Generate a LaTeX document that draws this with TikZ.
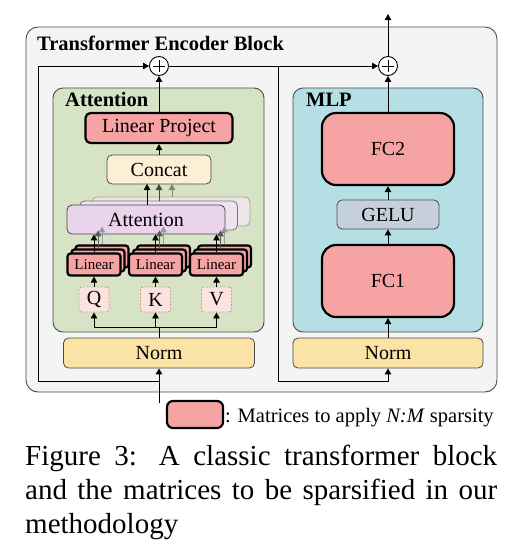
\documentclass[tikz,border=0pt]{standalone}
\usepackage{fontspec}
\setmainfont{Liberation Serif}
\usetikzlibrary{arrows.meta}
\definecolor{outerfill}{HTML}{F4F4F4}
\definecolor{attnfill}{HTML}{D6E3C4}
\definecolor{mlpfill}{HTML}{B4DFE4}
\definecolor{pinkfill}{HTML}{F6A3A3}
\definecolor{concatfill}{HTML}{FCEFD5}
\definecolor{lavA}{HTML}{E9D4EB}
\definecolor{lavB}{HTML}{EEE2EF}
\definecolor{lavC}{HTML}{ECE7E6}
\definecolor{qkvfill}{HTML}{FBE4DF}
\definecolor{qkvdraw}{HTML}{DC9A8A}
\definecolor{normfill}{HTML}{FBE3A6}
\definecolor{gelufill}{HTML}{C6D0DC}
\definecolor{edge}{HTML}{4A4A4A}
\definecolor{arrB}{HTML}{3F4A3C}
\definecolor{arrC}{HTML}{7C8A6E}
\begin{document}
\begin{tikzpicture}[x=1pt,y=-1pt,
  arr/.style={draw=black, line width=0.9pt, -{Triangle[length=6pt,width=6.5pt]}},
  ln/.style={draw=black, line width=0.9pt},
  txt/.style={font=\fontsize{20}{24}\selectfont},
  box/.style={draw=edge, line width=0.8pt, rounded corners=5pt, inner sep=0pt, align=center, txt},
  sparse/.style={box, fill=pinkfill, draw=black, line width=2.2pt},
  container/.style={draw=edge, line width=0.9pt, rounded corners=10pt, inner sep=0pt},
  lbl/.style={anchor=base west, inner sep=0pt, font=\fontsize{20.5}{24}\selectfont\bfseries},
  plusnode/.style={circle, draw=black, fill=white, minimum size=19pt, inner sep=0pt, line width=0.9pt,
    path picture={\draw[line width=0.8pt] ([xshift=-6pt]path picture bounding box.center) -- ([xshift=6pt]path picture bounding box.center);
                  \draw[line width=0.8pt] ([yshift=-6pt]path picture bounding box.center) -- ([yshift=6pt]path picture bounding box.center);}},
  linbox/.style={sparse, minimum width=53pt, minimum height=22pt, rounded corners=3pt, font=\fontsize{15}{18}\selectfont},
  qkv/.style={box, fill=qkvfill, draw=qkvdraw, dash pattern=on 2pt off 1.5pt, line width=0.9pt, minimum width=30pt, minimum height=25pt, rounded corners=3pt}
]
\useasboundingbox (0,0) rectangle (525,560);

% outer block
\node[container, fill=outerfill, rounded corners=12pt, minimum width=471pt, minimum height=365pt] (outer) at (261.5,209.5) {};
\node[lbl] (title) at (37,50) {Transformer Encoder Block};

% containers
\node[container, fill=attnfill, minimum width=211pt, minimum height=244pt] (attnbox) at (158.5,210) {};
\node[lbl] (attnlbl) at (65,106) {Attention};
\node[container, fill=mlpfill, minimum width=190pt, minimum height=244pt] (mlpbox) at (388,210) {};
\node[lbl] (mlplbl) at (306,106) {MLP};

% residual adders
\node[plusnode] (plus1) at (159,66) {};
\node[plusnode] (plus2) at (388,66) {};
\coordinate (out) at (388,14);

% attention branch
\node[sparse, minimum width=147pt, minimum height=30pt] (linproj) at (159,128) {Linear Project};
\node[box, fill=concatfill, minimum width=104pt, minimum height=29pt] (concat) at (159,169.5) {Concat};

\node[box, fill=lavC, draw=edge!50, minimum width=158pt, minimum height=29pt] (attC) at (171,211.5) {};
\node[box, fill=lavB, draw=edge!75, minimum width=158pt, minimum height=29pt] (attB) at (158.5,215.5) {};
\node[box, fill=lavA, minimum width=158pt, minimum height=29pt] (attA) at (146,219.5) {Attention};

\foreach \n/\x in {q/94,k/155.5,v/216.5}{
  \node[linbox] (lin\n C) at (\x+8,256.5) {};
  \node[linbox] (lin\n B) at (\x+4,260.5) {};
  \node[linbox] (lin\n) at (\x,264.5) {Linear};
}
\node[qkv] (Q) at (94,299.5) {Q};
\node[qkv] (K) at (155.5,299.5) {K};
\node[qkv] (V) at (216.5,299.5) {V};

\node[box, fill=normfill, minimum width=191pt, minimum height=30pt] (norm1) at (159,353) {Norm};

% MLP branch
\node[sparse, minimum width=132pt, minimum height=72pt, rounded corners=14pt] (fc2) at (388,149) {FC2};
\node[box, fill=gelufill, minimum width=102pt, minimum height=29pt] (gelu) at (388,214.5) {GELU};
\node[sparse, minimum width=132pt, minimum height=72pt, rounded corners=14pt] (fc1) at (388,281) {FC1};
\node[box, fill=normfill, minimum width=190pt, minimum height=30pt] (norm2) at (388,353) {Norm};

% coordinates for connectors
\coordinate (in) at (159,403);
\coordinate (j1) at (159,381);
\coordinate (c1) at (38,381);
\coordinate (c2) at (38,66);
\coordinate (bus) at (159,327);
\coordinate (br1) at (278,66);
\coordinate (br2) at (278,381);
\coordinate (j2) at (388,381);
\coordinate (ca) at (147,184);
\coordinate (cb) at (159,184);
\coordinate (cc) at (172,184);

% input and first skip
\draw[arr] (in) -- (norm1);
\draw[arr] (j1) -- (c1) -- (c2) -- (plus1);
\draw[ln] (norm1.north) -- (bus);
\draw[ln] (Q |- bus) -- (V |- bus);
\draw[arr] (Q |- bus) -- (Q);
\draw[arr] (K |- bus) -- (K);
\draw[arr] (V |- bus) -- (V);
\draw[arr] (Q) -- (linq);
\draw[arr] (K) -- (link);
\draw[arr] (V) -- (linv);
\foreach \n in {q,k,v}{
  \draw[arr, draw=black!40] (lin\n C.north) -- (lin\n C.north |- attC.south);
  \draw[arr, draw=black!65] (lin\n B.north) -- (lin\n B.north |- attB.south);
  \draw[arr] (lin\n) -- (lin\n |- attA.south);
}
\draw[arr, draw=arrC] (cc |- attC.north) -- (cc);
\draw[arr, draw=arrB] (cb |- attB.north) -- (cb);
\draw[arr] (ca |- attA.north) -- (ca);
\draw[arr] (concat) -- (linproj);
\draw[arr] (linproj) -- (plus1);

% second skip
\draw[arr] (plus1) -- (plus2);
\draw[arr] (br1) -- (br2) -- (j2) -- (norm2);
\draw[arr] (norm2) -- (fc1);
\draw[arr] (fc1) -- (gelu);
\draw[arr] (gelu) -- (fc2);
\draw[arr] (fc2) -- (plus2);
\draw[arr] (plus2) -- (out);

% legend
\node[sparse, minimum width=56pt, minimum height=27pt, rounded corners=6pt] (legbox) at (195,414.5) {};
\node[anchor=base west, inner sep=0pt, font=\fontsize{20.5}{24}\selectfont] (legtxt) at (225,422) {: Matrices to apply \textit{N:M} sparsity};

% caption
\node[anchor=north west, text width=472pt, align=justify, inner sep=0pt, font=\fontsize{29}{34}\selectfont] (cap) at (25,445) {\hyphenpenalty=10000 Figure 3: A classic transformer block and the matrices to be sparsified in our methodology};
\end{tikzpicture}
\end{document}
